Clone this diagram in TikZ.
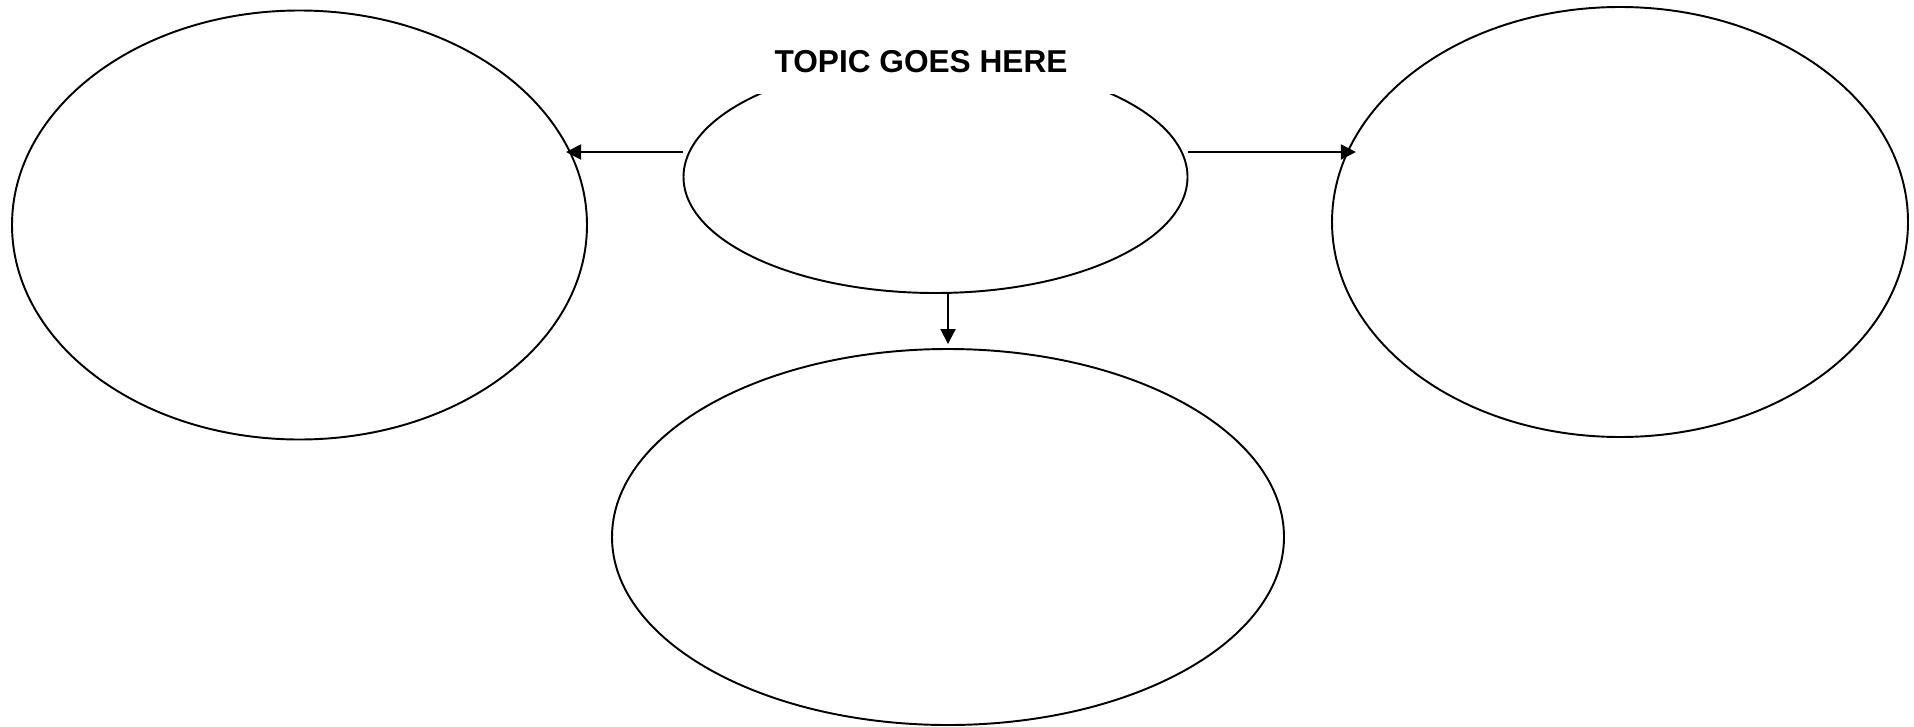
\documentclass[tikz,border=0pt]{standalone}
\usepackage{fontspec}
\setmainfont{Liberation Sans}
\usetikzlibrary{arrows.meta,shapes.geometric}

\begin{document}
\begin{tikzpicture}[
  oval/.style = {ellipse, draw=black, line width=1.1pt, inner sep=0pt},
  ttl/.style  = {fill=white, minimum width=8cm, inner ysep=0.42cm, text depth=0pt,
                 font=\fontsize{18}{21}\selectfont\bfseries},
  ar/.style   = {-{Triangle[length=0.3cm,width=0.3cm]}, line width=1.1pt},
]
\useasboundingbox (0,0) rectangle (38.28,-14.52);

% ---- ovals -----------------------------------------------------------------
\node[oval, minimum width=11.5cm,  minimum height=8.58cm] (lft)   at (5.99,-4.5)   {};
\node[oval, minimum width=10.08cm, minimum height=4.64cm] (topic) at (18.71,-3.54) {};
\node[oval, minimum width=11.52cm, minimum height=8.6cm]  (rgt)   at (32.4,-4.44)  {};
\node[oval, minimum width=13.44cm, minimum height=7.52cm] (bot)   at (18.96,-10.74) {};

% ---- title -----------------------------------------------------------------
\node[ttl, anchor=south] (title) at (18.42,-1.88) {TOPIC GOES HERE};

% ---- arrows ----------------------------------------------------------------
\draw[ar, shorten >=-0.1cm] ([yshift=5mm]topic.west) -- ([yshift=5mm]topic.west -| lft.15);
\draw[ar, shorten >=-0.2cm] ([yshift=5mm]topic.east) -- ([yshift=5mm]topic.east -| rgt.166);
\draw[ar] (bot.north |- topic.south) -- ([yshift=0.08cm]bot.north);

\end{tikzpicture}
\end{document}
